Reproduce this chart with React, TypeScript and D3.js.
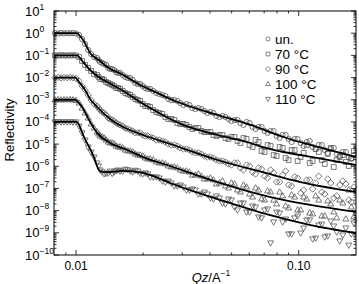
import React, { useEffect, useRef } from "react";
import * as d3 from "d3";

// measured Qz grid (A^-1), shared by all samples
const qz = [
  0.00804, 0.0083, 0.00856, 0.00883, 0.00911, 0.0094, 0.00969, 0.01, 0.01032, 0.01064,
  0.01098, 0.01133, 0.01168, 0.01205, 0.01243, 0.01283, 0.01337, 0.01394, 0.01453, 0.01514,
  0.01578, 0.01663, 0.01751, 0.01845, 0.01942, 0.02046, 0.02154, 0.02293, 0.0244, 0.02597,
  0.02764, 0.02941, 0.0313, 0.03331, 0.03544, 0.03772, 0.04014, 0.04272, 0.04547, 0.04838,
  0.05149, 0.0548, 0.05833, 0.06207, 0.06606, 0.0703, 0.07482, 0.07962, 0.08474, 0.09016,
  0.09594, 0.1021, 0.1087, 0.1156, 0.1231, 0.131, 0.1394, 0.1483, 0.1579, 0.168, 0.1769,
];
// second (interleaved) set of Qz points above the critical edge
const qz2 = [
  0.01263, 0.0131, 0.01365, 0.01423, 0.01483, 0.01546, 0.0162, 0.01706, 0.01797, 0.01893,
  0.01993, 0.02099, 0.02222, 0.02365, 0.02517, 0.02679, 0.02851, 0.03034, 0.03229, 0.03436,
  0.03656, 0.03891, 0.04141, 0.04407, 0.0469, 0.04991, 0.05312, 0.05654, 0.06017, 0.06404,
  0.06815, 0.07253, 0.07718, 0.08214, 0.08741, 0.09301, 0.09897, 0.1053, 0.1121, 0.1193,
  0.127, 0.1351, 0.1438, 0.153, 0.1629, 0.1724,
];

// reflectivity data (each curve shifted by a decade)
const rUn = [
  1.0, 0.97, 1.02, 0.98, 1.0, 0.99, 1.01, 0.97, 0.83, 0.548,
  0.326, 0.175, 0.115, 0.0845, 0.0762, 0.0503, 0.0409, 0.027, 0.0243, 0.0178,
  0.0161, 0.0106, 0.00955, 0.00569, 0.00513, 0.00339, 0.00305, 0.00201, 0.00164, 0.00108,
  9.7e-4, 7.1e-4, 6.4e-4, 4.2e-4, 4.2e-4, 3.1e-4, 2.8e-4, 1.85e-4, 1.85e-4, 1.36e-4,
  1.22e-4, 8.9e-5, 9.9e-5, 5.9e-5, 5.9e-5, 3.9e-5, 3.9e-5, 2.32e-5, 2.57e-5, 1.7e-5,
  1.7e-5, 1.12e-5, 1.24e-5, 7.4e-6, 9.1e-6, 5.4e-6, 6.0e-6, 3.6e-6, 4.4e-6, 2.6e-6, 3.2e-6,
];
const rUn2 = [
  0.0619, 0.0453, 0.0368, 0.0243, 0.0219, 0.0161, 0.013, 0.00955, 0.00776, 0.00513,
  0.00416, 0.00305, 0.00248, 0.00182, 0.00148, 9.7e-4, 8.8e-4, 5.8e-4, 5.8e-4, 3.8e-4,
  3.8e-4, 2.52e-4, 2.52e-4, 1.67e-4, 1.67e-4, 1.1e-4, 1.22e-4, 7.3e-5, 8.9e-5, 4.8e-5,
  5.9e-5, 3.2e-5, 3.9e-5, 1.88e-5, 2.57e-5, 1.24e-5, 1.7e-5, 8.2e-6, 1.38e-5, 6.0e-6,
  9.1e-6, 4.0e-6, 6.7e-6, 2.9e-6, 4.4e-6, 2.13e-6,
];
const r70 = [
  0.1, 0.097, 0.102, 0.098, 0.1, 0.099, 0.101, 0.098, 0.0845, 0.0558,
  0.0369, 0.027, 0.0198, 0.0145, 0.013, 0.00861, 0.00776, 0.00569, 0.00462, 0.00339,
  0.00305, 0.00201, 0.00164, 0.00108, 8.8e-4, 5.2e-4, 4.7e-4, 2.8e-4, 2.28e-4, 1.36e-4,
  1.22e-4, 8.1e-5, 7.3e-5, 4.8e-5, 5.3e-5, 3.5e-5, 3.5e-5, 2.32e-5, 2.57e-5, 1.7e-5,
  2.09e-5, 1.12e-5, 1.7e-5, 7.4e-6, 1.24e-5, 4.4e-6, 8.2e-6, 2.9e-6, 6.7e-6, 1.92e-6,
  5.4e-6, 2.6e-6, 9.1e-6, 1.73e-6, 4.4e-6, 1.27e-6, 6.7e-6, 1.92e-6, 3.2e-6, 1.03e-6, 4.9e-6,
];
const r702 = [
  0.0106, 0.00861, 0.0063, 0.00513, 0.00416, 0.00339, 0.00248, 0.00182, 0.00133, 9.7e-4,
  6.4e-4, 5.2e-4, 3.4e-4, 2.52e-4, 1.67e-4, 1.36e-4, 8.9e-5, 8.1e-5, 5.9e-5, 5.3e-5,
  3.9e-5, 3.5e-5, 2.57e-5, 2.57e-5, 1.88e-5, 2.09e-5, 1.38e-5, 1.88e-5, 9.1e-6, 1.53e-5,
  4.9e-6, 9.1e-6, 3.2e-6, 7.4e-6, 2.35e-6, 5.4e-6, 1.73e-6, 4.0e-6, 1.41e-6, 6.0e-6,
  1.92e-6, 3.6e-6, 9.3e-7, 2.6e-6, 1.56e-6, 2.35e-6,
];
const r90 = [
  0.0098, 0.0102, 0.0097, 0.0101, 0.0099, 0.0102, 0.0098, 0.0091, 0.007, 0.00416,
  0.00275, 0.00164, 9.7e-4, 6.4e-4, 5.2e-4, 3.4e-4, 2.52e-4, 1.5e-4, 1.22e-4, 8.9e-5,
  7.3e-5, 5.3e-5, 4.3e-5, 3.2e-5, 3.2e-5, 2.32e-5, 2.09e-5, 1.53e-5, 1.38e-5, 1.01e-5,
  9.1e-6, 6.7e-6, 6.0e-6, 4.4e-6, 4.0e-6, 2.9e-6, 2.6e-6, 1.92e-6, 1.73e-6, 1.27e-6,
  1.41e-6, 8.4e-7, 1.14e-6, 5.5e-7, 8.4e-7, 3.6e-7, 6.8e-7, 1.95e-7, 4.0e-7, 1.43e-7,
  3.3e-7, 6.2e-8, 2.41e-7, 9.5e-8, 3.6e-7, 5.6e-8, 1.76e-7, 4.6e-8, 2.17e-7, 3.0e-8, 1.16e-7,
];
const r902 = [
  4.2e-4, 2.8e-4, 2.05e-4, 1.36e-4, 1.1e-4, 8.1e-5, 6.5e-5, 4.8e-5, 3.9e-5, 3.2e-5,
  2.57e-5, 2.32e-5, 1.88e-5, 1.53e-5, 1.24e-5, 9.1e-6, 8.2e-6, 6.0e-6, 5.4e-6, 4.0e-6,
  3.6e-6, 2.6e-6, 2.35e-6, 1.73e-6, 1.56e-6, 1.14e-6, 1.41e-6, 6.8e-7, 1.03e-6, 4.5e-7,
  7.5e-7, 2.96e-7, 5.0e-7, 1.95e-7, 6.1e-7, 1.29e-7, 2.96e-7, 8.5e-8, 2.41e-7, 1.76e-7,
  6.9e-8, 2.67e-7, 3.7e-8, 1.43e-7, 1.59e-7, 2.45e-8,
];
const r100 = [
  9.8e-4, 1.02e-3, 9.7e-4, 1.01e-3, 9.9e-4, 1.02e-3, 9.8e-4, 9.2e-4, 7.1e-4, 4.2e-4,
  2.52e-4, 1.5e-4, 8.1e-5, 5.3e-5, 3.5e-5, 2.32e-5, 1.88e-5, 1.24e-5, 1.12e-5, 8.2e-6,
  7.4e-6, 5.4e-6, 4.9e-6, 3.6e-6, 3.2e-6, 2.37e-6, 2.13e-6, 1.56e-6, 1.41e-6, 1.03e-6,
  9.3e-7, 6.8e-7, 6.1e-7, 4.0e-7, 4.5e-7, 2.67e-7, 2.96e-7, 1.59e-7, 2.17e-7, 1.05e-7,
  1.59e-7, 6.9e-8, 1.16e-7, 4.1e-8, 8.5e-8, 3.0e-8, 6.9e-8, 2.0e-8, 4.6e-8, 1.32e-8,
  4.1e-8, 1.07e-8, 3.35e-8, 7.1e-9, 3.0e-8, 5.7e-9, 2.0e-8, 4.7e-9, 2.2e-8, 8.5e-8, 5.2e-9,
];
const r1002 = [
  2.85e-5, 2.09e-5, 1.53e-5, 1.12e-5, 1.01e-5, 7.4e-6, 6.7e-6, 4.9e-6, 4.4e-6, 3.2e-6,
  2.9e-6, 2.13e-6, 1.92e-6, 1.41e-6, 1.27e-6, 9.3e-7, 8.4e-7, 6.1e-7, 5.5e-7, 4.0e-7,
  3.6e-7, 2.67e-7, 2.41e-7, 1.76e-7, 1.29e-7, 1.76e-7, 8.5e-8, 1.43e-7, 5.6e-8, 1.05e-7,
  3.35e-8, 7.7e-8, 3.0e-8, 6.9e-8, 1.62e-8, 5.1e-8, 1.07e-8, 4.1e-8, 7.8e-9, 4.6e-8,
  5.7e-9, 2.72e-8, 8.7e-9, 3.0e-8, 4.2e-9, 1.46e-8,
];
const r110 = [
  1.0e-4, 1.03e-4, 9.8e-5, 1.02e-4, 9.9e-5, 1.02e-4, 9.8e-5, 1.0e-4, 6.5e-5, 3.2e-5,
  1.53e-5, 7.4e-6, 4.4e-6, 2.6e-6, 1.41e-6, 6.8e-7, 4.6e-7, 5.0e-7, 4.8e-7, 6.3e-7,
  6.1e-7, 7.4e-7, 6.1e-7, 6.6e-7, 4.8e-7, 5.0e-7, 3.3e-7, 3.3e-7, 2.17e-7, 2.17e-7,
  1.29e-7, 1.43e-7, 8.5e-8, 9.5e-8, 5.6e-8, 6.9e-8, 3.7e-8, 4.6e-8, 2.2e-8, 3.35e-8,
  1.46e-8, 2.2e-8, 8.7e-9, 1.62e-8, 5.2e-9, 1.07e-8, 3.5e-10, 8.7e-9, 3.1e-9, 8.9e-10,
  4.7e-9, 9.8e-10, 3.8e-9, 5.3e-10, 2.25e-9, 6.5e-10, 3.4e-9, 1.09e-9, 8.0e-10, 2.8e-10, 2.8e-9,
];
const r1102 = [
  1.03e-6, 5.6e-7, 4.8e-7, 6.1e-7, 5.5e-7, 6.8e-7, 6.1e-7, 7.0e-7, 5.5e-7, 6.1e-7,
  4.5e-7, 4.5e-7, 3.3e-7, 2.96e-7, 1.95e-7, 1.76e-7, 1.29e-7, 1.16e-7, 8.5e-8, 8.5e-8,
  5.6e-8, 5.6e-8, 3.35e-8, 3.7e-8, 2.0e-8, 3.0e-8, 1.07e-8, 2.2e-8, 8.7e-9, 1.46e-8,
  4.7e-9, 1.19e-8, 3.1e-9, 7.8e-9, 4.2e-9, 8.9e-10, 5.7e-9, 1.65e-9, 3.8e-9, 5.8e-10,
  2.5e-9, 7.2e-10, 2.03e-9, 4.3e-10, 1.65e-9, 8.9e-10,
];

// model fits
const fitUnQ = [0.00796, 0.0101, 0.0104, 0.01076, 0.01156, 0.01283, 0.0138, 0.0163, 0.0194, 0.0232, 0.0265, 0.0303, 0.0432, 0.0608, 0.0855, 0.122, 0.181];
const fitUnR = [1.0, 1.0, 0.75, 0.49, 0.128, 0.0558, 0.03, 0.013, 0.00462, 0.00201, 0.00108, 6.4e-4, 2.05e-4, 7.3e-5, 2.09e-5, 7.4e-6, 2.6e-6];
const fit70Q = [0.00796, 0.0101, 0.0104, 0.01076, 0.01156, 0.01283, 0.0138, 0.0163, 0.0194, 0.0216, 0.0265, 0.0303, 0.0432, 0.0608, 0.071, 0.0855, 0.122, 0.181];
const fit70R = [0.1, 0.1, 0.0762, 0.0503, 0.0219, 0.00955, 0.0063, 0.0025, 7.9e-4, 4.2e-4, 1.36e-4, 7.3e-5, 2.57e-5, 1.12e-5, 6.7e-6, 4.4e-6, 2.35e-6, 1.14e-6];
const fit90Q = [0.00796, 0.0099, 0.0104, 0.01098, 0.01156, 0.01243, 0.01423, 0.017, 0.02, 0.0265, 0.0432, 0.071, 0.102, 0.181];
const fit90R = [0.01, 0.01, 0.00569, 0.00275, 0.00108, 4.7e-4, 1.36e-4, 4.8e-5, 2.57e-5, 1.01e-5, 1.92e-6, 5.0e-7, 1.95e-7, 6.9e-8];
const fit100Q = [0.00796, 0.0099, 0.0102, 0.01064, 0.01156, 0.01243, 0.01423, 0.017, 0.02, 0.0265, 0.0432, 0.0748, 0.113, 0.181];
const fit100R = [0.001, 0.001, 7.9e-4, 4.7e-4, 1.0e-4, 3.2e-5, 1.12e-5, 5.4e-6, 2.6e-6, 1.03e-6, 1.95e-7, 4.1e-8, 1.8e-8, 8.7e-9];
const fit110Q = [0.00796, 0.0101, 0.01032, 0.01076, 0.01193, 0.0128, 0.0136, 0.0163, 0.02, 0.0239, 0.0265, 0.0446, 0.071, 0.113, 0.181];
const fit110R = [1e-4, 1e-4, 7.3e-5, 2.57e-5, 3.2e-6, 6.0e-7, 5.4e-7, 6.2e-7, 5.0e-7, 2.7e-7, 1.76e-7, 3.0e-8, 7.1e-9, 2.25e-9, 9.8e-10];

const labels = ["un.", "70 \u00b0C", "90 \u00b0C", "100 \u00b0C", "110 \u00b0C"];
const symbols = ["circle", "square", "diamond", "triangleUp", "triangleDown"];
const yExps = [1, 0, -1, -2, -3, -4, -5, -6, -7, -8, -9, -10];
const xMajor = [0.01, 0.1];
const xMajorLabels = ["0.01", "0.10"];
const xMinor = [0.009, 0.02, 0.03, 0.04, 0.05, 0.06, 0.07, 0.08, 0.09];

const symbolPath = (name: string) => {
  switch (name) {
    case "circle":
      return "M2.6,0A2.6,2.6 0 1,1 -2.6,0A2.6,2.6 0 1,1 2.6,0Z";
    case "square":
      return "M-2.4,-2.4H2.4V2.4H-2.4Z";
    case "diamond":
      return "M0,-3.2L3.2,0L0,3.2L-3.2,0Z";
    case "triangleUp":
      return "M0,-3.3L3,2L-3,2Z";
    default:
      return "M0,3.3L3,-2L-3,-2Z";
  }
};

export default function App() {
  const ref = useRef<SVGSVGElement>(null);

  useEffect(() => {
    document.body.style.margin = "0";
    if (!ref.current) return;
    const width = 359;
    const height = 284;
    const plot = { left: 54, right: 356, top: 11, bottom: 255 };

    const svg = d3.select(ref.current);
    svg.selectAll("*").remove();
    svg.attr("width", width).attr("height", height);

    const x = d3.scaleLog().domain([0.00796, 0.181]).range([plot.left, plot.right]);
    const y = d3.scaleLog().domain([1e-10, 10]).range([plot.bottom, plot.top]);

    const font = "Liberation Sans, Arial, sans-serif";

    svg
      .append("defs")
      .append("clipPath")
      .attr("id", "plotclip")
      .append("rect")
      .attr("x", plot.left)
      .attr("y", plot.top)
      .attr("width", plot.right - plot.left)
      .attr("height", plot.bottom - plot.top);

    // data markers
    const dataSets = [
      [rUn, rUn2],
      [r70, r702],
      [r90, r902],
      [r100, r1002],
      [r110, r1102],
    ];
    dataSets.forEach(([vals, vals2], i) => {
      const pts = vals
        .map((r, j) => [qz[j], r])
        .concat(vals2.map((r, j) => [qz2[j], r]));
      svg
        .append("g")
        .selectAll("path")
        .data(pts)
        .join("path")
        .attr("d", symbolPath(symbols[i]))
        .attr("transform", (d) => `translate(${x(d[0])},${y(d[1])})`)
        .attr("fill", "none")
        .attr("stroke", "#555")
        .attr("stroke-width", 0.8);
    });

    // fit lines
    const fits = [
      [fitUnQ, fitUnR],
      [fit70Q, fit70R],
      [fit90Q, fit90R],
      [fit100Q, fit100R],
      [fit110Q, fit110R],
    ];
    const line = d3
      .line<[number, number]>()
      .x((d) => x(d[0]))
      .y((d) => y(d[1]))
      .curve(d3.curveMonotoneX);
    fits.forEach(([qs, rs]) => {
      svg
        .append("path")
        .datum(qs.map((q, k) => [q, rs[k]] as [number, number]))
        .attr("d", line)
        .attr("fill", "none")
        .attr("stroke", "#000")
        .attr("stroke-width", 1.8)
        .attr("clip-path", "url(#plotclip)");
    });

    // frame
    svg
      .append("rect")
      .attr("x", plot.left)
      .attr("y", plot.top)
      .attr("width", plot.right - plot.left)
      .attr("height", plot.bottom - plot.top)
      .attr("fill", "none")
      .attr("stroke", "#000")
      .attr("stroke-width", 1);

    const ticks = svg.append("g").attr("stroke", "#000").attr("stroke-width", 0.8);

    // y ticks, both sides, inward
    yExps.forEach((e) => {
      const yy = y(Math.pow(10, e));
      ticks.append("line").attr("x1", plot.left).attr("x2", plot.left + 5).attr("y1", yy).attr("y2", yy);
      ticks.append("line").attr("x1", plot.right).attr("x2", plot.right - 5).attr("y1", yy).attr("y2", yy);
      if (e < 1) {
        for (let m = 2; m <= 9; m++) {
          const ym = y(m * Math.pow(10, e));
          ticks.append("line").attr("x1", plot.left).attr("x2", plot.left + 2.5).attr("y1", ym).attr("y2", ym);
          ticks.append("line").attr("x1", plot.right).attr("x2", plot.right - 2.5).attr("y1", ym).attr("y2", ym);
        }
      }
      const t = svg
        .append("text")
        .attr("x", 25)
        .attr("y", yy + 4.5)
        .attr("font-family", font)
        .attr("font-size", 13)
        .attr("fill", "#000");
      t.append("tspan").text("10");
      t.append("tspan")
        .attr("font-size", 8.5)
        .attr("dy", -6)
        .text(e < 0 ? `\u2212${-e}` : `${e}`);
    });

    // x ticks, top and bottom, inward
    xMajor.forEach((v, i) => {
      const xx = x(v);
      ticks.append("line").attr("x1", xx).attr("x2", xx).attr("y1", plot.bottom).attr("y2", plot.bottom - 5);
      ticks.append("line").attr("x1", xx).attr("x2", xx).attr("y1", plot.top).attr("y2", plot.top + 5);
      svg
        .append("text")
        .attr("x", xx)
        .attr("y", 270)
        .attr("text-anchor", "middle")
        .attr("font-family", font)
        .attr("font-size", 12)
        .text(xMajorLabels[i]);
    });
    xMinor.forEach((v) => {
      const xx = x(v);
      ticks.append("line").attr("x1", xx).attr("x2", xx).attr("y1", plot.bottom).attr("y2", plot.bottom - 2.5);
      ticks.append("line").attr("x1", xx).attr("x2", xx).attr("y1", plot.top).attr("y2", plot.top + 2.5);
    });

    // axis titles
    const xt = svg
      .append("text")
      .attr("x", 211)
      .attr("y", 282)
      .attr("text-anchor", "middle")
      .attr("font-family", font)
      .attr("font-size", 13);
    xt.append("tspan").attr("font-style", "italic").text("Qz");
    xt.append("tspan").text("/A");
    xt.append("tspan").attr("font-size", 8.5).attr("dy", -6).text("\u22121");

    svg
      .append("text")
      .attr("transform", "translate(14,130) rotate(-90)")
      .attr("text-anchor", "middle")
      .attr("font-family", font)
      .attr("font-size", 13)
      .text("Reflectivity");

    // legend
    labels.forEach((lab, i) => {
      const ly = 39 + i * 15;
      svg
        .append("path")
        .attr("d", symbolPath(symbols[i]))
        .attr("transform", `translate(268,${ly}) scale(0.8)`)
        .attr("fill", "none")
        .attr("stroke", "#555")
        .attr("stroke-width", 0.9);
      svg
        .append("text")
        .attr("x", 275)
        .attr("y", ly + 4.8)
        .attr("font-family", font)
        .attr("font-size", 13.5)
        .text(lab);
    });
  }, []);

  return <svg ref={ref} style={{ display: "block" }}></svg>;
}
